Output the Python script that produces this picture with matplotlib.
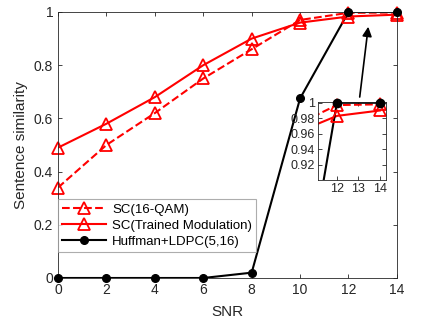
import numpy as np
import matplotlib.pyplot as plt

plt.rcParams['font.family'] = ['Liberation Sans', 'DejaVu Sans']

# data
snr = [0, 2, 4, 6, 8, 10, 12, 14]
sc_qam = [0.34, 0.50, 0.62, 0.75, 0.86, 0.97, 0.997, 0.998]
sc_trained = [0.49, 0.58, 0.68, 0.80, 0.90, 0.96, 0.983, 0.99]
huffman = [0.0, 0.0, 0.0, 0.0, 0.02, 0.675, 1.0, 1.0]
labels = ['SC(16-QAM)', 'SC(Trained Modulation)', 'Huffman+LDPC(5,16)']

fig = plt.figure(figsize=(4.3, 3.24), dpi=100)
ax = fig.add_axes([0.135, 0.142, 0.788, 0.821])


def draw(a, x0, ms_tri=8, ms_dot=5.5):
    # lines (clipped), markers only for points in view (unclipped)
    keep = [i for i, x in enumerate(snr) if x >= x0]
    xs = [snr[i] for i in keep]
    a.plot(snr, sc_qam, '--', color='red', lw=1.5)
    a.plot(snr, sc_trained, '-', color='red', lw=1.5)
    a.plot(snr, huffman, '-', color='black', lw=1.5)
    a.plot(xs, [sc_qam[i] for i in keep], '^', color='red', ms=ms_tri,
           mfc='none', mew=1.3, clip_on=False)
    a.plot(xs, [sc_trained[i] for i in keep], '^', color='red', ms=ms_tri,
           mfc='none', mew=1.3, clip_on=False)
    a.plot(xs, [huffman[i] for i in keep], 'o', color='black', ms=ms_dot,
           clip_on=False, zorder=5)


def style(a):
    for s in a.spines.values():
        s.set_color('0.15')
        s.set_linewidth(0.6)
    a.tick_params(direction='in', colors='0.15', length=3, width=0.6,
                  top=True, right=True, labelsize=10)


draw(ax, 0)
ax.set_xlim(0, 14)
ax.set_ylim(0, 1)
ax.set_xticks([0, 2, 4, 6, 8, 10, 12, 14])
ax.set_yticks([0, 0.2, 0.4, 0.6, 0.8, 1])
ax.set_yticklabels(['0', '0.2', '0.4', '0.6', '0.8', '1'])
style(ax)
ax.set_xlabel('SNR', fontsize=11, color='0.15', labelpad=6)
ax.set_ylabel('Sentence similarity', fontsize=11, color='0.15')

# legend handles
h1, = ax.plot([], [], '--^', color='red', lw=1.5, ms=8, mfc='none', mew=1.3)
h2, = ax.plot([], [], '-^', color='red', lw=1.5, ms=8, mfc='none', mew=1.3)
h3, = ax.plot([], [], '-o', color='black', lw=1.5, ms=5.5)
leg = ax.legend([h1, h2, h3], labels, loc='lower left', fontsize=9.5,
                frameon=True, fancybox=False, borderpad=0.3,
                labelspacing=0.3, handlelength=3.3, handletextpad=0.5,
                borderaxespad=0, bbox_to_anchor=(0.0, 0.098))
leg.get_frame().set_edgecolor('0.6')
leg.get_frame().set_linewidth(0.8)

# inset zoom
ins = fig.add_axes([318 / 430, 1 - 180 / 324, 68 / 430, 78 / 324])
draw(ins, 12, ms_tri=8, ms_dot=6)
ins.set_xlim(11.12, 14.28)
ins.set_ylim(0.9, 1.001)
ins.set_xticks([12, 13, 14])
ins.set_yticks([0.92, 0.94, 0.96, 0.98, 1])
ins.set_yticklabels(['0.92', '0.94', '0.96', '0.98', '1'])
style(ins)
ins.tick_params(labelsize=9, pad=2)

ax.annotate('', xy=(12.83, 0.955), xytext=(12.45, 0.67),
            arrowprops=dict(arrowstyle='-|>', color='black', lw=1.2,
                            mutation_scale=14))

fig.savefig('out.png', dpi=100)
